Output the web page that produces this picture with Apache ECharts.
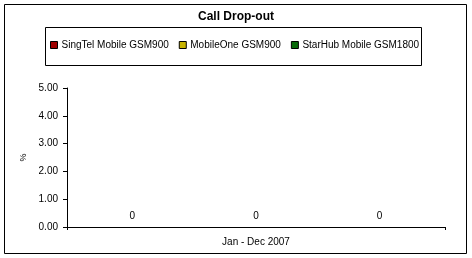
<!DOCTYPE html>
<html>
<head>
<meta charset="utf-8">
<script src="https://cdn.jsdelivr.net/npm/echarts@6/dist/echarts.min.js"></script>
<style>html,body{margin:0;padding:0;background:#fff}#c{width:472px;height:258px}</style>
</head>
<body>
<div id="c"></div>
<script>
const categories = ['Jan - Dec 2007'];
const seriesNames = ['SingTel Mobile GSM900', 'MobileOne GSM900', 'StarHub Mobile GSM1800'];
const singtelValues = [0];
const mobileOneValues = [0];
const starhubValues = [0];
const seriesColors = ['#a00000', '#c8b400', '#0a6a0a'];
const yTicks = [0, 1, 2, 3, 4, 5];

const FONT = 'Liberation Sans, Arial, sans-serif';
const chart = echarts.init(document.getElementById('c'), null, {renderer: 'canvas'});
const values = [singtelValues, mobileOneValues, starhubValues];

chart.setOption({
  backgroundColor: '#fff',
  animation: false,
  title: {
    text: 'Call Drop-out', left: 'center', top: 11, padding: 0,
    textStyle: {fontFamily: FONT, fontSize: 12, fontWeight: 'bold', color: '#000'}
  },
  graphic: [
    {type: 'rect', shape: {x: 4.5, y: 4.5, width: 462, height: 249}, style: {fill: 'none', stroke: '#000', lineWidth: 1}, silent: true},
    {type: 'rect', shape: {x: 45.5, y: 27.5, width: 376, height: 38}, style: {fill: 'none', stroke: '#000', lineWidth: 1}, silent: true}
  ],
  legend: {
    left: 50, top: 40, padding: 0, itemGap: 10,
    itemWidth: 7, itemHeight: 7,
    icon: 'rect',
    itemStyle: {borderColor: '#000', borderWidth: 1},
    textStyle: {fontFamily: FONT, fontSize: 10, color: '#000', padding: [0, 0, 0, -1]},
    data: seriesNames
  },
  grid: {left: 67, right: 27, top: 88, bottom: 31, containLabel: false},
  xAxis: {
    type: 'category', data: categories,
    axisLine: {lineStyle: {color: '#000', width: 1}},
    axisTick: {show: true, length: 3, lineStyle: {color: '#000'}},
    axisLabel: {fontFamily: FONT, fontSize: 10, color: '#000', margin: 10}
  },
  yAxis: {
    type: 'value', min: yTicks[0], max: yTicks[yTicks.length - 1], interval: 1,
    name: '%', nameLocation: 'middle', nameGap: 32, nameRotate: 90,
    nameTextStyle: {fontFamily: FONT, fontSize: 9, color: '#000'},
    axisLine: {show: true, lineStyle: {color: '#000', width: 1}},
    axisTick: {show: true, length: 4, lineStyle: {color: '#000'}},
    axisLabel: {fontFamily: FONT, fontSize: 10, color: '#000', margin: 9, formatter: v => v.toFixed(2)},
    splitLine: {show: false}
  },
  series: seriesNames.map((n, i) => ({
    name: n, type: 'bar', data: values[i],
    barWidth: 40, barGap: '209%',
    itemStyle: {color: seriesColors[i], borderWidth: 0},
    label: {show: true, position: 'top', distance: 6, fontFamily: FONT, fontSize: 10, color: '#000'}
  }))
});
</script>
</body>
</html>
